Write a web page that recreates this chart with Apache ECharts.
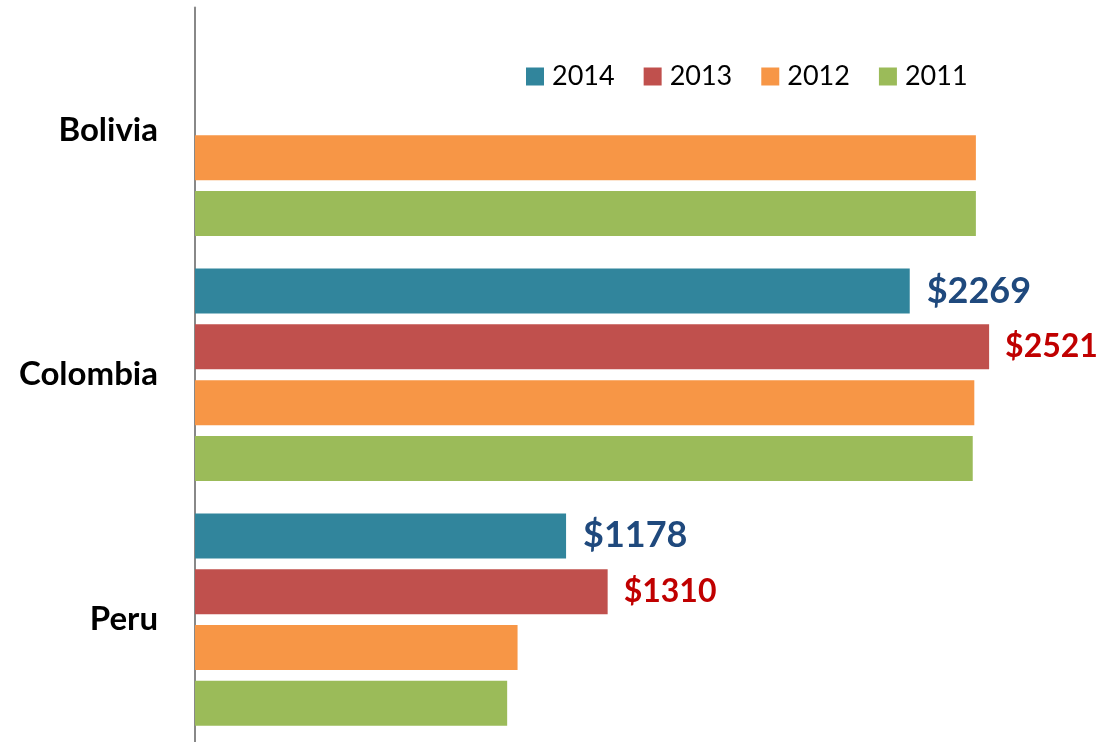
<!DOCTYPE html>
<html>
<head>
<meta charset="utf-8">
<script src="https://cdn.jsdelivr.net/npm/echarts@6/dist/echarts.min.js"></script>
<style>
  html, body { margin: 0; padding: 0; background: #fff; }
  #chart { width: 1101px; height: 742px; }
</style>
</head>
<body>
<div id="chart"></div>
<script>
'use strict';

// countries, top to bottom
const countries = ['Bolivia', 'Colombia', 'Peru'];
const years = ['2014', '2013', '2012', '2011'];

// values (Bolivia has no 2014 / 2013 bar)
const values2014 = [null, 2269, 1178];
const values2013 = [null, 2521, 1310];
const values2012 = [2479, 2474, 1024];
const values2011 = [2479, 2469, 991];

const colors = ['#31859C', '#C0504D', '#F79646', '#9BBB59'];

function makeSeries(name, data, color, label) {
  return {
    name: name,
    type: 'bar',
    data: data,
    barWidth: 45,
    barGap: '24%',
    itemStyle: { color: color },
    label: label || { show: false }
  };
}

const chart = echarts.init(document.getElementById('chart'));

const option = {
  animation: false,
  textStyle: { fontFamily: 'Lato, "Open Sans", sans-serif' },
  legend: {
    data: years,
    left: 521,
    top: 58,
    itemWidth: 18,
    itemHeight: 18,
    itemGap: 29,
    icon: 'rect',
    textStyle: { fontSize: 27, color: '#000', padding: [0, 0, 0, 3] }
  },
  grid: { left: 195, top: 7.5, width: 882, height: 741 },
  xAxis: {
    type: 'value',
    min: 0,
    max: 2800,
    show: false
  },
  yAxis: {
    type: 'category',
    data: countries,
    inverse: true,
    axisLine: { show: true, lineStyle: { color: '#888', width: 2 } },
    axisTick: { show: false },
    axisLabel: { fontSize: 33, fontWeight: 'bold', color: '#000', margin: 37 }
  },
  series: [
    makeSeries(years[0], values2014, colors[0], {
      show: true, position: 'right', distance: 17,
      formatter: function (p) { return '$' + p.value; },
      fontSize: 36, fontWeight: 'bold', color: '#1F497D'
    }),
    makeSeries(years[1], values2013, colors[1], {
      show: true, position: 'right', distance: 16,
      formatter: function (p) { return '$' + p.value; },
      fontSize: 32, fontWeight: 'bold', color: '#C00000'
    }),
    makeSeries(years[2], values2012, colors[2]),
    makeSeries(years[3], values2011, colors[3])
  ]
};

chart.setOption(option);
</script>
</body>
</html>
